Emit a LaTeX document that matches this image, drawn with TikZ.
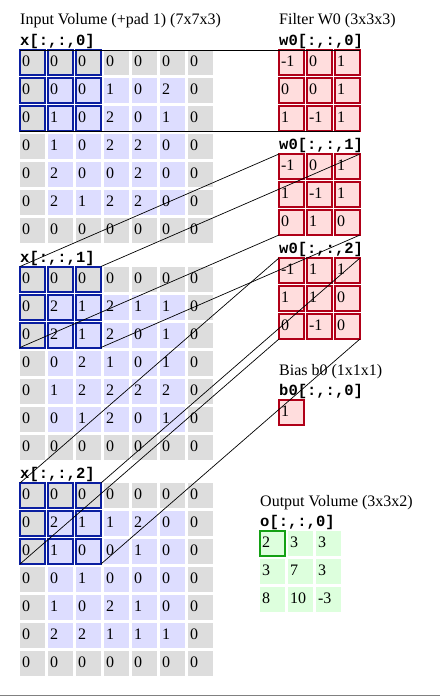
\documentclass[tikz,border=0pt]{standalone}
\usepackage{fontspec}
\setmainfont{Liberation Serif}
\newfontfamily\codefont{Liberation Mono}
\usepackage{tikz}

\definecolor{padgrey}{RGB}{221,221,221}
\definecolor{volblue}{RGB}{221,221,255}
\definecolor{wpink}{RGB}{255,221,221}
\definecolor{wred}{RGB}{176,0,24}
\definecolor{winblue}{RGB}{10,30,160}
\definecolor{ogreen}{RGB}{221,255,221}
\definecolor{hlgreen}{RGB}{20,160,20}

% one padded 7x7 slice of the input volume
\newcommand{\volslice}[3]{%
  \foreach \row [count=\r] in {#3}{
    \foreach \v [count=\c] in \row{
      \pgfmathtruncatemacro\isedge{(\r==1)||(\r==7)||(\c==1)||(\c==7)}
      \ifnum\isedge=1 \def\cfill{padgrey}\else\def\cfill{volblue}\fi
      \node[cell,fill=\cfill] (#1-\r-\c) at ({20+28*(\c-1)},{#2+28*(\r-1)}) {\v};
    }}}
% a small slice (filter, bias, output)
\newcommand{\smallslice}[5]{%
  \foreach \row [count=\r] in {#5}{
    \foreach \v [count=\c] in \row{
      \node[#2] (#1-\r-\c) at ({#3+28*(\c-1)},{#4+28*(\r-1)}) {\v};
    }}}

\begin{document}
\begin{tikzpicture}[x=1pt,y=-1pt,
    cell/.style={anchor=north west,minimum width=25pt,minimum height=25pt,inner xsep=2pt,inner ysep=0pt,
      outer sep=0pt,text width=21pt,text height=16.5pt,text depth=8.5pt,align=left,font=\fontsize{16}{19}\selectfont},
    wcell/.style={cell,fill=wpink,draw=wred,line width=1.6pt},
    ocell/.style={cell,fill=ogreen},
    title/.style={anchor=base west,inner sep=0pt,font=\fontsize{16}{19}\selectfont},
    code/.style={anchor=base west,inner sep=0pt,font=\codefont\bfseries\fontsize{15.5}{19}\selectfont},
    win/.style={draw=winblue,line width=2pt},
    hl/.style={draw=hlgreen,line width=2pt},
    link/.style={black,line width=0.7pt}]
  \useasboundingbox (0,0) rectangle (440,696);
  \fill[white] (0,0) rectangle (440,696);
  \draw[gray,line width=1.5pt] (0,695.25) -- (440,695.25);

  % input volume
  \volslice{x0}{50}{{0,0,0,0,0,0,0},{0,0,0,1,0,2,0},{0,1,0,2,0,1,0},{0,1,0,2,2,0,0},{0,2,0,0,2,0,0},{0,2,1,2,2,0,0},{0,0,0,0,0,0,0}}
  \volslice{x1}{266.5}{{0,0,0,0,0,0,0},{0,2,1,2,1,1,0},{0,2,1,2,0,1,0},{0,0,2,1,0,1,0},{0,1,2,2,2,2,0},{0,0,1,2,0,1,0},{0,0,0,0,0,0,0}}
  \volslice{x2}{483}{{0,0,0,0,0,0,0},{0,2,1,1,2,0,0},{0,1,0,0,1,0,0},{0,0,1,0,0,0,0},{0,1,0,2,1,0,0},{0,2,2,1,1,1,0},{0,0,0,0,0,0,0}}

  % filter, bias and output
  \smallslice{w0c0}{wcell}{279}{50}{{-1,0,1},{0,0,1},{1,-1,1}}
  \smallslice{w0c1}{wcell}{279}{154}{{-1,0,1},{1,-1,1},{0,1,0}}
  \smallslice{w0c2}{wcell}{279}{258}{{-1,1,1},{1,1,0},{0,-1,0}}
  \smallslice{b0}{wcell}{279}{400}{{1}}
  \smallslice{o0}{ocell}{260}{531}{{2,3,3},{3,7,3},{8,10,-3}}

  % labels
  \node[code] (x0lbl) at ([yshift=4.5pt]x0-1-1.north west) {x[:,:,0]};
  \node[code] (x1lbl) at ([yshift=4.5pt]x1-1-1.north west) {x[:,:,1]};
  \node[code] (x2lbl) at ([yshift=4.5pt]x2-1-1.north west) {x[:,:,2]};
  \node[code] (w0lbl) at ([yshift=4.5pt]w0c0-1-1.north west) {w0[:,:,0]};
  \node[code] (w1lbl) at ([yshift=4.5pt]w0c1-1-1.north west) {w0[:,:,1]};
  \node[code] (w2lbl) at ([yshift=4.5pt]w0c2-1-1.north west) {w0[:,:,2]};
  \node[code] (b0lbl) at ([yshift=4.5pt]b0-1-1.north west) {b0[:,:,0]};
  \node[code] (o0lbl) at ([yshift=5pt]o0-1-1.north west) {o[:,:,0]};
  \node[title] (intitle) at ([yshift=21pt]x0lbl.base west) {Input Volume (+pad 1) (7x7x3)};
  \node[title] (wtitle) at ([yshift=21pt]w0lbl.base west) {Filter W0 (3x3x3)};
  \node[title] (btitle) at ([yshift=20pt]b0lbl.base west) {Bias b0 (1x1x1)};
  \node[title] (otitle) at ([yshift=19.5pt]o0lbl.base west) {Output Volume (3x3x2)};

  % receptive field and the output it gives
  \foreach \ch in {0,1,2}
    \foreach \r in {1,2,3}
      \foreach \c in {1,2,3}
        \draw[win] (x\ch-\r-\c.north west) rectangle (x\ch-\r-\c.south east);
  \draw[hl] (o0-1-1.north west) rectangle (o0-1-1.south east);

  % corners of each window to the filter slice
  \foreach \ch in {0,1,2}{
    \draw[link] (x\ch-1-1.north west) -- (w0c\ch-1-1.north west);
    \draw[link] (x\ch-1-3.north east) -- (w0c\ch-1-3.north east);
    \draw[link] (x\ch-3-1.south west) -- (w0c\ch-3-1.south west);
    \draw[link] (x\ch-3-3.south east) -- (w0c\ch-3-3.south east);
  }
\end{tikzpicture}
\end{document}
